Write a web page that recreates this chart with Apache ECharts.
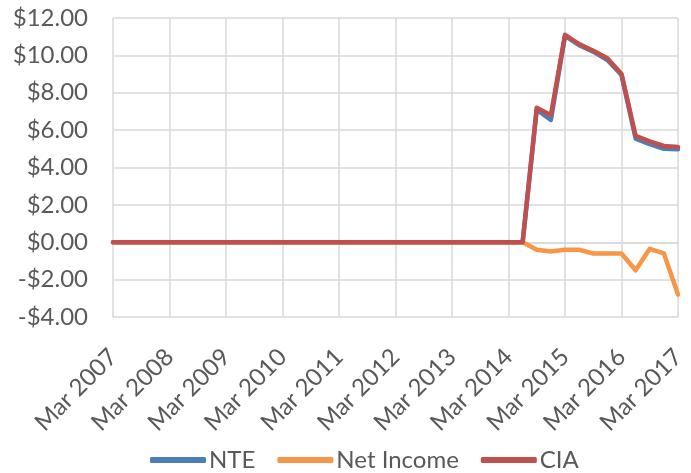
<!DOCTYPE html>
<html>
<head>
<meta charset="utf-8">
<script src="https://cdn.jsdelivr.net/npm/echarts@6/dist/echarts.min.js"></script>
<style>
  html, body { margin: 0; padding: 0; background: #fff; }
  #chart { width: 691px; height: 473px; }
</style>
</head>
<body>
<div id="chart"></div>
<script>
// quarterly dates, Mar 2007 .. Mar 2017
var monthNames = ['Mar', 'Jun', 'Sep', 'Dec'];
var categories = [];
for (var y = 2007; y <= 2017; y++) {
    for (var q = 0; q < 4; q++) {
        if (y === 2017 && q > 0) break;
        categories.push(monthNames[q] + ' ' + y);
    }
}

var nteValues = [
    0, 0, 0, 0, 0, 0, 0, 0, 0, 0,
    0, 0, 0, 0, 0, 0, 0, 0, 0, 0,
    0, 0, 0, 0, 0, 0, 0, 0, 0, 0,
    7.1, 6.55, 11.05, 10.55, 10.2, 9.75, 8.95, 5.55, 5.25, 5.0, 4.98
];
var netIncomeValues = [
    0, 0, 0, 0, 0, 0, 0, 0, 0, 0,
    0, 0, 0, 0, 0, 0, 0, 0, 0, 0,
    0, 0, 0, 0, 0, 0, 0, 0, 0, 0,
    -0.4, -0.5, -0.4, -0.4, -0.6, -0.6, -0.6, -1.5, -0.35, -0.6, -2.8
];
var ciaValues = [
    0, 0, 0, 0, 0, 0, 0, 0, 0, 0,
    0, 0, 0, 0, 0, 0, 0, 0, 0, 0,
    0, 0, 0, 0, 0, 0, 0, 0, 0, 0,
    7.2, 6.8, 11.1, 10.6, 10.25, 9.85, 9.0, 5.7, 5.4, 5.15, 5.1
];

var fontName = 'Lato, "Open Sans", sans-serif';
var textColor = '#595959';
var gridColor = '#d9d9d9';

var chart = echarts.init(document.getElementById('chart'));

var makeLine = function(name, data, color) {
    return {
        name: name,
        type: 'line',
        data: data,
        symbol: 'none',
        smooth: false,
        lineStyle: { color: color, width: 4.5, cap: 'round', join: 'round' },
        itemStyle: { color: color }
    };
};

var option = {
    animation: false,
    textStyle: { fontFamily: fontName },
    grid: { left: 113, right: 13, top: 18, bottom: 156 },
    legend: {
        top: 448,
        left: 150,
        padding: 0,
        itemGap: 22,
        itemWidth: 56,
        itemHeight: 6,
        icon: 'roundRect',
        textStyle: { fontSize: 24, color: textColor, fontFamily: fontName, padding: [0, 0, 0, -2] },
        data: ['NTE', 'Net Income', 'CIA']
    },
    xAxis: {
        type: 'category',
        boundaryGap: false,
        data: categories,
        axisLine: { show: true, lineStyle: { color: gridColor, width: 1.5 } },
        axisTick: { show: false },
        axisLabel: {
            interval: 3,
            rotate: 45,
            fontSize: 24,
            color: textColor,
            margin: 36
        },
        splitLine: { show: true, interval: 3, lineStyle: { color: gridColor, width: 1.5 } }
    },
    yAxis: {
        type: 'value',
        min: -4,
        max: 12,
        interval: 2,
        axisLine: { show: false },
        axisTick: { show: false },
        axisLabel: {
            fontSize: 24,
            color: textColor,
            margin: 25,
            formatter: function(v) {
                return (v < 0 ? '-$' : '$') + Math.abs(v).toFixed(2);
            }
        },
        splitLine: { show: true, lineStyle: { color: gridColor, width: 1.5 } }
    },
    series: [
        makeLine('NTE', nteValues, '#4a7ebb'),
        makeLine('Net Income', netIncomeValues, '#f79646'),
        makeLine('CIA', ciaValues, '#c0504d')
    ]
};

chart.setOption(option);
</script>
</body>
</html>
